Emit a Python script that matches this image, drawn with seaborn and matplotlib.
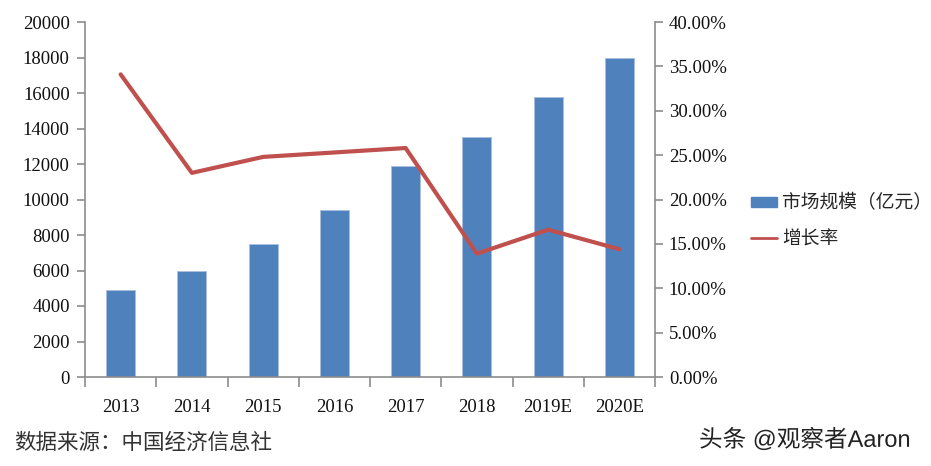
import matplotlib
matplotlib.use("Agg")
import matplotlib.pyplot as plt
import seaborn as sns
import pandas as pd
import numpy as np
from matplotlib.ticker import FixedLocator, FuncFormatter
from matplotlib.patches import Patch
from matplotlib.lines import Line2D
import matplotlib.patheffects as pe

years = ["2013", "2014", "2015", "2016", "2017", "2018", "2019E", "2020E"]
market_size = [4900, 6000, 7500, 9400, 11900, 13500, 15800, 18000]
growth_rate = [34.1, 23.0, 24.8, 25.3, 25.8, 13.9, 16.6, 14.4]
bar_label = "市场规模（亿元）"
line_label = "增长率"
source_text = "数据来源：中国经济信息社"
watermark = "头条 @观察者Aaron"

sns.set_theme(style="white")
plt.rcParams['font.family'] = ['Liberation Serif', 'Noto Sans CJK SC', 'DejaVu Sans']

df = pd.DataFrame({"year": years, "size": market_size, "rate": growth_rate})

fig = plt.figure(figsize=(9.31, 4.66), dpi=100)
ax = fig.add_axes([85/931, 1-377/466, (655-85)/931, (377-22)/466])

bar_color = "#4F81BD"
line_color = "#C0504D"
spine_color = "#8C8C8C"
text_color = "#111111"
fs = 13.5

sns.barplot(data=df, x="year", y="size", color=bar_color, width=0.41,
            edgecolor="#A9C0DE", linewidth=0.6, saturation=1, ax=ax)
ax.set_xlabel("")
ax.set_ylabel("")
ax.set_ylim(0, 20000)
ax.set_xlim(-0.5, len(years) - 0.5)
ax.yaxis.set_major_locator(FixedLocator(np.arange(0, 20001, 2000)))

ax2 = ax.twinx()
sns.lineplot(data=df, x="year", y="rate", color=line_color, linewidth=3, ax=ax2,
             sort=False)
ax2.set_ylim(0, 40)
ax2.set_ylabel("")
ax2.set_xlabel("")
ax2.yaxis.set_major_locator(FixedLocator(np.arange(0, 40.01, 5)))
ax2.yaxis.set_major_formatter(FuncFormatter(lambda v, p: f"{v:.2f}%"))
ax2.set_xlim(-0.5, len(years) - 0.5)

for a in (ax, ax2):
    a.spines["top"].set_visible(False)
    for s in ("left", "right", "bottom"):
        a.spines[s].set_color(spine_color)
        a.spines[s].set_linewidth(1.2)
ax.spines["right"].set_visible(False)
ax2.spines["left"].set_visible(False)
ax2.spines["bottom"].set_visible(False)

ax.tick_params(axis="y", which="major", direction="out", length=6, width=1.2,
               color=spine_color, left=True, pad=5)
ax2.tick_params(axis="y", which="major", direction="out", length=6, width=1.2,
                color=spine_color, right=True, pad=4)
for lab in ax.get_yticklabels() + ax2.get_yticklabels():
    lab.set_fontsize(fs); lab.set_color(text_color)

ax.set_xticks(range(len(years)))
ax.set_xticklabels(years, fontsize=fs, color=text_color)
ax.tick_params(axis="x", which="major", length=0, pad=16)
ax.set_xticks(np.arange(-0.5, len(years) + 0.5, 1), minor=True)
ax.tick_params(axis="x", which="minor", direction="out", length=7, width=1.2,
               color=spine_color, bottom=True)

handles = [Patch(facecolor=bar_color, edgecolor=bar_color),
           Line2D([0], [0], color=line_color, linewidth=2)]
leg = fig.legend(handles, [bar_label, line_label], loc="center left",
                 bbox_to_anchor=(751/931, 1-221/466), frameon=False,
                 prop={"family": ["Noto Sans CJK SC"], "size": 13.5},
                 handlelength=1.4, handleheight=0.5, handletextpad=0.25,
                 labelspacing=0.78, borderpad=0, borderaxespad=0)

fig.text(14/931, 1-443/466, source_text, fontsize=15.5, color="#333333",
         family=["Noto Sans CJK SC"], va="center", ha="left")
fig.text(699/931, 1-440/466, watermark, fontsize=17, color="#222222",
         family=["Liberation Sans", "Noto Sans CJK SC", "DejaVu Sans"],
         va="center", ha="left",
         path_effects=[pe.withStroke(linewidth=2, foreground="white")])

fig.savefig("out.png", dpi=100)
